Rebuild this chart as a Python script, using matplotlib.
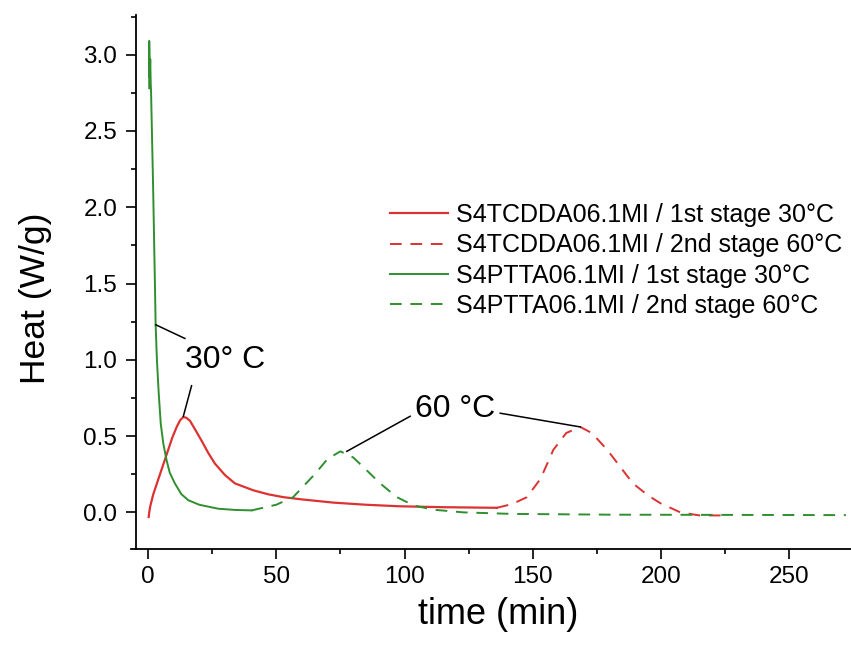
import matplotlib.pyplot as plt

plt.rcParams['font.family'] = ['Liberation Sans', 'DejaVu Sans']

# S4TCDDA06.1MI, 1st stage 30 C
red1_t = [0.3, 0.5, 0.9, 2.1, 3.5, 5.3, 6.5, 7.9, 9.5, 11.2, 12.6, 13.8, 15.0, 16.4, 18.5, 20.9, 23.5,
          26.1, 30.0, 33.9, 41, 47, 52.7, 60, 72.3, 85, 98, 115, 136]
red1_q = [-0.03, 0.0, 0.04, 0.12, 0.19, 0.28, 0.34, 0.41, 0.49, 0.56, 0.605, 0.625, 0.62, 0.60, 0.54, 0.47, 0.39,
          0.32, 0.245, 0.19, 0.145, 0.118, 0.10, 0.085, 0.064, 0.05, 0.04, 0.034, 0.03]

# S4TCDDA06.1MI, 2nd stage 60 C
red2_t = [136, 142, 147.7, 153, 158, 163, 168.5, 173, 179, 184, 189, 195, 199.7, 207.5, 215, 226]
red2_q = [0.03, 0.055, 0.10, 0.22, 0.41, 0.52, 0.56, 0.52, 0.41, 0.30, 0.19, 0.11, 0.06, 0.0, -0.02, -0.02]

# S4PTTA06.1MI, 1st stage 30 C
grn1_t = [0.5, 0.5, 0.7, 0.9, 1.1, 1.2, 2.0, 2.7, 3.0, 3.5, 4.2, 5.0, 6.0, 7.3, 8.5, 10.5, 13.0, 15.7,
          20.0, 27.4, 34, 40.4]
grn1_q = [2.78, 3.09, 2.85, 2.97, 2.80, 2.77, 2.15, 1.52, 1.23, 1.0, 0.78, 0.58, 0.45, 0.34, 0.26, 0.19, 0.12, 0.08,
          0.05, 0.024, 0.016, 0.013]

# S4PTTA06.1MI, 2nd stage 60 C
grn2_t = [40.4, 50, 56.6, 65, 70, 75, 80, 85, 90.5, 97, 103.5, 111, 123, 142, 180, 272]
grn2_q = [0.013, 0.05, 0.10, 0.25, 0.35, 0.40, 0.36, 0.28, 0.19, 0.10, 0.046, 0.018, 0.0, -0.01, -0.015, -0.018]

red = '#dc3232'
green = '#2f8f2f'

fig = plt.figure(figsize=(8.51, 6.45), dpi=100)
ax = fig.add_axes([131 / 851, 1 - 549 / 645, 1 - 131 / 851, (549 - 15) / 645])

dash = (6, 4.5)
ax.plot(red1_t, red1_q, color=red, lw=1.6, label='S4TCDDA06.1MI / 1st stage 30°C')
ax.plot(red2_t, red2_q, color=red, lw=1.4, dashes=dash, label='S4TCDDA06.1MI / 2nd stage 60°C')
ax.plot(grn1_t, grn1_q, color=green, lw=1.4, label='S4PTTA06.1MI / 1st stage 30°C')
ax.plot(grn2_t, grn2_q, color=green, lw=1.4, dashes=dash, label='S4PTTA06.1MI / 2nd stage 60°C')

# annotations
ax.text(30, 1.0, '30° C', fontsize=23, ha='center', va='center')
ax.plot([3.0, 14.4], [1.23, 1.14], color='black', lw=1.1)
ax.plot([17, 13.8], [0.83, 0.63], color='black', lw=1.1)
ax.text(119.7, 0.68, '60 °C', fontsize=23, ha='center', va='center')
ax.plot([102.2, 77.5], [0.63, 0.40], color='black', lw=1.1)
ax.plot([137.3, 168.5], [0.65, 0.56], color='black', lw=1.1)

ax.set_xlim(-6.6, 274)
ax.set_ylim(-0.24, 3.26)
ax.spines['left'].set_position(('data', -4.7))
ax.set_xticks([0, 50, 100, 150, 200, 250])
ax.set_xticks([25, 75, 125, 175, 225], minor=True)
ax.set_yticks([0.0, 0.5, 1.0, 1.5, 2.0, 2.5, 3.0])
ax.set_yticks([0.25, 0.75, 1.25, 1.75, 2.25, 2.75, 3.25], minor=True)
ax.yaxis.set_major_formatter(plt.FormatStrFormatter('%.1f'))
ax.tick_params(which='major', length=7, width=1.2, labelsize=17.5)
ax.tick_params(axis='y', which='major', pad=6.5)
ax.tick_params(axis='x', which='major', pad=5)
ax.tick_params(which='minor', length=3.6, width=1.2)
for s in ['top', 'right']:
    ax.spines[s].set_visible(False)
for s in ['left', 'bottom']:
    ax.spines[s].set_linewidth(1.3)

ax.set_xlabel('time (min)', fontsize=26)
ax.set_ylabel('Heat (W/g)', fontsize=25.5)
ax.xaxis.set_label_coords(0.51, -0.09)
ax.yaxis.set_label_coords(-0.11, 0.47)

ax.legend(loc='upper left', bbox_to_anchor=(390 / 851, 1 - 203 / 645), bbox_transform=fig.transFigure,
          frameon=False, fontsize=18, handlelength=2.3, handletextpad=0.32, labelspacing=0.25,
          borderpad=0, borderaxespad=0)

fig.savefig('out.png', dpi=100)
